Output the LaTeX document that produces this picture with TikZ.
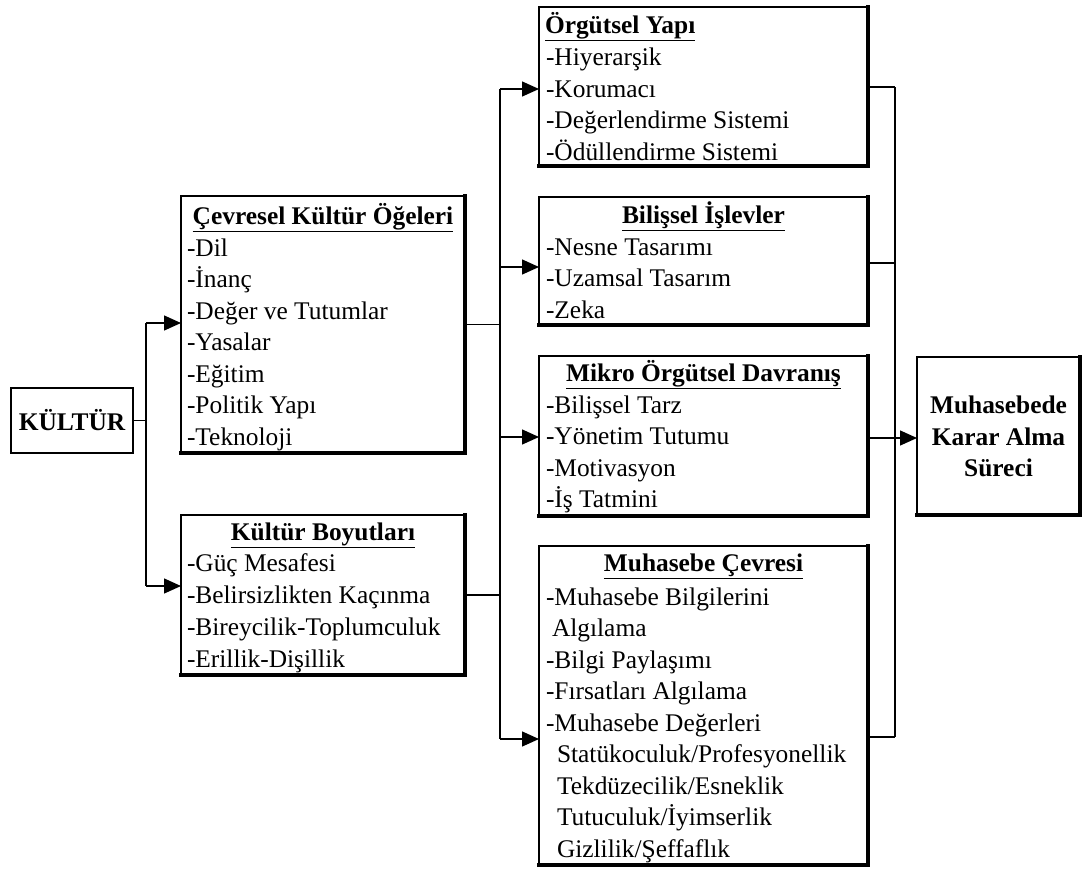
\documentclass[tikz,border=0pt]{standalone}
\usepackage{fontspec}
\setmainfont{Liberation Serif}
\usetikzlibrary{arrows.meta}
\newcommand{\fs}{\fontsize{25.4}{31.5}\selectfont}
\newcommand{\fst}{\rule{0pt}{24pt}}
\begin{document}
\begin{tikzpicture}[x=1pt,y=-1pt,
  box/.style={draw, line width=2.2pt, inner sep=0pt, outer sep=0pt, anchor=north west},
  heavy/.style={line width=3.4pt, line cap=rect},
  ttl/.style={inner sep=0pt, outer sep=0pt, font=\fs\bfseries},
  items/.style={anchor=north west, inner sep=0pt, outer sep=0pt, align=left, font=\fs},
  conn/.style={line width=1.4pt},
  arr/.style={line width=1.4pt, -{Triangle[length=17pt,width=15pt]}}]
\useasboundingbox (0,0) rectangle (1082,870);

% KULTUR
\node[box, line width=1.5pt, minimum width=122pt, minimum height=65pt] (kul) at (11,388) {};
\node[ttl] (kulT) at (kul.center) {KÜLTÜR};

% Cevresel
\node[box, minimum width=284pt, minimum height=257pt] (cev) at (181,196) {};
\node[ttl, anchor=base] (cevT) at ([shift={(0,28)}]cev.north) {\underline{Çevresel Kültür Öğeleri}};
\node[items] (cevI) at ([shift={(6,36.4)}]cev.north west)
  {\fst-Dil\\-İnanç\\-Değer ve Tutumlar\\-Yasalar\\-Eğitim\\-Politik Yapı\\-Teknoloji};

% Kultur Boyutlari
\node[box, minimum width=284pt, minimum height=160pt] (boy) at (181,515) {};
\node[ttl, anchor=base] (boyT) at ([shift={(0,25)}]boy.north) {\underline{Kültür Boyutları}};
\node[items, font=\fontsize{25.4}{32}\selectfont] (boyI) at ([shift={(6,32.4)}]boy.north west)
  {\fst-Güç Mesafesi\\-Belirsizlikten Kaçınma\\-Bireycilik-Toplumculuk\\-Erillik-Dişillik};

% Orgutsel Yapi
\node[box, minimum width=329pt, minimum height=159pt] (org) at (539,7) {};
\node[ttl, anchor=base west] (orgT) at ([shift={(6,26.5)}]org.north west) {\underline{Örgütsel Yapı}};
\node[items] (orgI) at ([shift={(7,34.5)}]org.north west)
  {\fst-Hiyerarşik\\-Korumacı\\-Değerlendirme Sistemi\\-Ödüllendirme Sistemi};

% Bilissel Islevler
\node[box, minimum width=329pt, minimum height=128pt] (bil) at (539,197) {};
\node[ttl, anchor=base] (bilT) at ([shift={(0,26.5)}]bil.north) {\underline{Bilişsel İşlevler}};
\node[items] (bilI) at ([shift={(7,34.4)}]bil.north west)
  {\fst-Nesne Tasarımı\\-Uzamsal Tasarım\\-Zeka};

% Mikro Orgutsel Davranis
\node[box, minimum width=329pt, minimum height=160pt] (mik) at (539,356) {};
\node[ttl, anchor=base] (mikT) at ([shift={(0,25.5)}]mik.north) {\underline{Mikro Örgütsel Davranış}};
\node[items] (mikI) at ([shift={(7,33.4)}]mik.north west)
  {\fst-Bilişsel Tarz\\-Yönetim Tutumu\\-Motivasyon\\-İş Tatmini};

% Muhasebe Cevresi
\node[box, minimum width=329pt, minimum height=319pt] (muh) at (539,546) {};
\node[ttl, anchor=base] (muhT) at ([shift={(0,25.5)}]muh.north) {\underline{Muhasebe Çevresi}};
\node[items] (muhI) at ([shift={(7,35.4)}]muh.north west)
  {\fst-Muhasebe Bilgilerini\\\hspace*{6pt}Algılama\\-Bilgi Paylaşımı\\-Fırsatları Algılama\\-Muhasebe Değerleri\\
   \hspace*{11pt}Statükoculuk/Profesyonellik\\\hspace*{11pt}Tekdüzecilik/Esneklik\\\hspace*{11pt}Tutuculuk/İyimserlik\\\hspace*{11pt}Gizlilik/Şeffaflık};

% Muhasebede Karar Alma Sureci
\node[box, minimum width=163pt, minimum height=158pt] (kar) at (917,357) {};
\node[ttl, align=center, anchor=north] (karT) at ([shift={(0,389.5)}]kar.center |- 0,0)
  {\fst Muhasebede\\Karar Alma\\Süreci};

% heavier right and bottom edges
\foreach \b in {cev,boy,org,bil,mik,muh,kar}
  \draw[heavy] (\b.north east) -- (\b.south east) -- (\b.south west);

% connectors: left bus
\coordinate (k1) at (146,323);
\coordinate (k2) at (146,586);
\draw[conn] (kul.east) -| (k1);
\draw[conn] (k1) -- (k2);
\draw[arr] (k1) -- (k1 -| cev.west);
\draw[arr] (k2) -- (k2 -| boy.west);

% middle bus
\coordinate (b1) at (500,89);
\coordinate (b2) at (500,267);
\coordinate (b3) at (500,437);
\coordinate (b4) at (500,739);
\draw[conn] (cev.east) -- (cev.east -| b1);
\draw[conn] (boy.east) -- (boy.east -| b1);
\draw[conn] (b1) -- (b4);
\draw[arr] (b1) -- (b1 -| org.west);
\draw[arr] (b2) -- (b2 -| bil.west);
\draw[arr] (b3) -- (b3 -| mik.west);
\draw[arr] (b4) -- (b4 -| muh.west);

% right bus
\coordinate (r1) at (895,87);
\coordinate (r2) at (895,263);
\coordinate (r3) at (895,438);
\coordinate (r4) at (895,737);
\draw[conn] (r1 -| org.east) -- (r1);
\draw[conn] (r2 -| bil.east) -- (r2);
\draw[conn] (r3 -| mik.east) -- (r3);
\draw[conn] (r4 -| muh.east) -- (r4);
\draw[conn] (r1) -- (r4);
\draw[arr] (r3) -- (r3 -| kar.west);
\end{tikzpicture}
\end{document}
